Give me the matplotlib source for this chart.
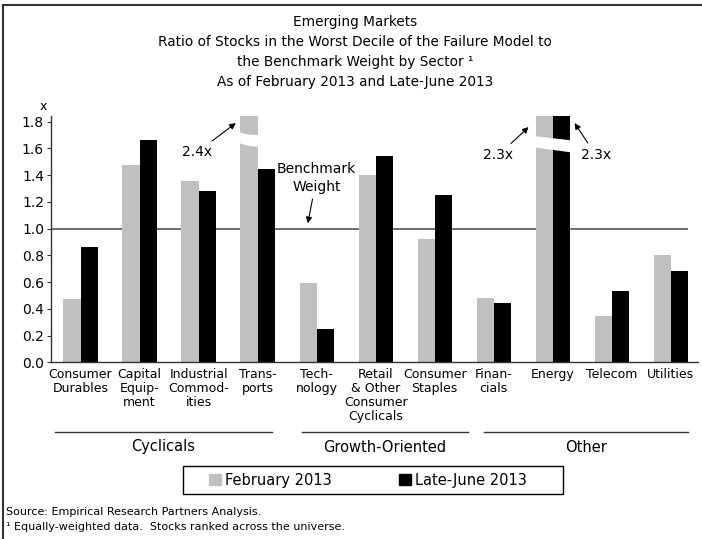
import matplotlib
matplotlib.use("Agg")
import matplotlib.pyplot as plt
import numpy as np
from matplotlib import font_manager
from matplotlib.patches import Patch, Polygon, Rectangle
from matplotlib.lines import Line2D

# === DATA ===
sectors = ["Consumer\nDurables", "Capital\nEquip-\nment", "Industrial\nCommod-\nities",
           "Trans-\nports", "Tech-\nnology", "Retail\n& Other\nConsumer\nCyclicals",
           "Consumer\nStaples", "Finan-\ncials", "Energy", "Telecom", "Utilities"]
feb_2013 = [0.47, 1.48, 1.36, 2.4, 0.59, 1.40, 0.92, 0.48, 2.3, 0.35, 0.80]
late_june_2013 = [0.86, 1.66, 1.28, 1.45, 0.25, 1.54, 1.25, 0.44, 2.3, 0.53, 0.68]
groups = ["Cyclicals", "Growth-Oriented", "Other"]
yticks = [0.0, 0.2, 0.4, 0.6, 0.8, 1.0, 1.2, 1.4, 1.6, 1.8]
benchmark = 1.0

# === FONT ===
available = {f.name for f in font_manager.fontManager.ttflist}
FONT = "Liberation Sans Narrow" if "Liberation Sans Narrow" in available else "DejaVu Sans"
plt.rcParams["font.family"] = [FONT, "DejaVu Sans"]
plt.rcParams["font.size"] = 10

W, H = 702, 539
fig = plt.figure(figsize=(W / 100, H / 100), dpi=100)


def fx(px):
    return px / W


def fy(py):
    return 1 - py / H


ax = fig.add_axes([fx(51), fy(362.3), fx(698) - fx(51), fy(116.4) - fy(362.3)])

x = np.arange(len(sectors))
width = 0.29
ax.bar(x - width / 2, feb_2013, width, color="#c0c0c0", label="February 2013", zorder=2)
ax.bar(x + width / 2, late_june_2013, width, color="black", label="Late-June 2013", zorder=2)

ax.set_xlim(-0.5, 10.46)
ax.set_ylim(0, 1.84)
ax.hlines(benchmark, -0.5, 10.29, color="#555555", lw=1.2, zorder=1)

# white breaks on the off-scale bars
tx = np.linspace(x[3] - width - 0.02, x[3] + 0.02, 20)
u = (tx - tx[0]) / (tx[-1] - tx[0])
top = 1.722 - 0.02 * u - 0.008 * np.sin(u * np.pi)
bot = 1.640 - 0.025 * u - 0.008 * np.sin(u * np.pi)
ax.add_patch(Polygon(np.r_[np.c_[tx, top], np.c_[tx[::-1], bot[::-1]]],
                     closed=True, color="white", zorder=3, lw=0))
ex = np.linspace(x[8] - width - 0.02, x[8] + width + 0.02, 20)
etop = 1.692 - 0.05 * (ex - ex[0])
ebot = 1.608 - 0.06 * (ex - ex[0])
ax.add_patch(Polygon(np.r_[np.c_[ex, etop], np.c_[ex[::-1], ebot[::-1]]],
                     closed=True, color="white", zorder=3, lw=0))

arrow = dict(arrowstyle="-|>", color="black", lw=0.8, mutation_scale=9, shrinkA=2, shrinkB=0)
ax.annotate("2.4x", xy=(2.63, 1.79), xytext=(1.97, 1.57), ha="center", va="center",
            fontsize=10, arrowprops=arrow)
ax.annotate("Benchmark\nWeight", xy=(3.85, 1.04), xytext=(4.0, 1.38), ha="center",
            va="center", fontsize=10, linespacing=1.3, arrowprops=arrow)
ax.annotate("2.3x", xy=(7.59, 1.76), xytext=(7.08, 1.55), ha="center", va="center",
            fontsize=10, arrowprops=arrow)
ax.annotate("2.3x", xy=(8.37, 1.79), xytext=(8.73, 1.55), ha="center", va="center",
            fontsize=10, arrowprops=arrow)

ax.set_yticks(yticks)
ax.set_yticklabels([f"{v:.1f}" for v in yticks], fontsize=10)
ax.set_xticks(x)
ax.set_xticklabels(sectors, fontsize=9, linespacing=1.1)
ax.tick_params(axis="x", length=0, pad=4)
ax.tick_params(axis="y", length=3, width=0.8, color="#333333", pad=2)
for s in ["top", "right"]:
    ax.spines[s].set_visible(False)
for s in ["left", "bottom"]:
    ax.spines[s].set_color("#333333")
    ax.spines[s].set_linewidth(1.0)
fig.text(fx(43), fy(106), "x", fontsize=9, ha="center", va="center")

# title
title = ["Emerging Markets",
         "Ratio of Stocks in the Worst Decile of the Failure Model to",
         "the Benchmark Weight by Sector \u00b9",
         "As of February 2013 and Late-June 2013"]
for i, t in enumerate(title):
    fig.text(fx(355), fy(22 + 20 * i), t, ha="center", va="center", fontsize=9.8)

# sector group brackets
spans = [(55, 272), (302, 468), (484, 688)]
for (x0, x1), g in zip(spans, groups):
    fig.add_artist(Line2D([fx(x0), fx(x1)], [fy(432), fy(432)], color="#333333", lw=1.0))
    fig.text(fx((x0 + x1) / 2), fy(447), g, ha="center", va="center", fontsize=10.5)

# legend
fig.add_artist(Rectangle((fx(183), fy(494)), fx(563) - fx(183), fy(466) - fy(494),
                         fill=False, edgecolor="black", lw=1.0))
handles = [Patch(color="#c0c0c0"), Patch(color="black")]
fig.legend(handles, ["February 2013", "Late-June 2013"], loc="center",
           bbox_to_anchor=(fx(368), fy(480)), ncol=2, frameon=False, fontsize=10.5,
           handlelength=0.8, handleheight=0.8, handletextpad=0.3, columnspacing=4.6)

fig.text(fx(6), fy(512), "Source: Empirical Research Partners Analysis.",
         ha="left", va="center", fontsize=8)
fig.text(fx(6), fy(527), "\u00b9 Equally-weighted data.  Stocks ranked across the universe.",
         ha="left", va="center", fontsize=8)

# outer frame
fig.add_artist(Line2D([fx(2.5), fx(2.5)], [0, fy(5)], color="#333333", lw=1.5))
fig.add_artist(Line2D([fx(2.5), 1], [fy(5), fy(5)], color="#333333", lw=1.5))

plt.savefig("out.png", dpi=100)
